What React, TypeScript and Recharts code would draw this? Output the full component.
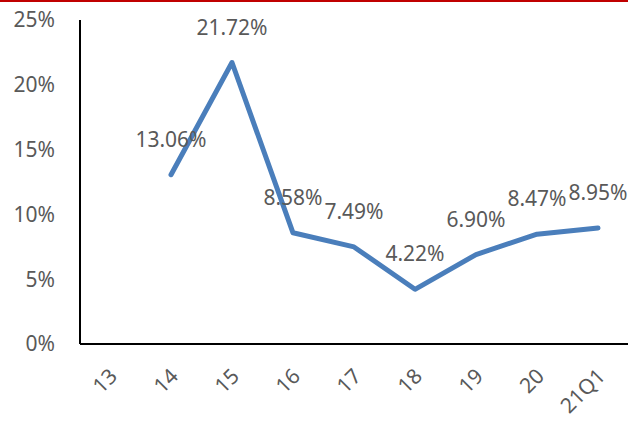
import React from "react";
import { LineChart, Line, XAxis, YAxis, LabelList } from "recharts";

const categories = ["13", "14", "15", "16", "17", "18", "19", "20", "21Q1"];
const growth: (number | null)[] = [null, 13.06, 21.72, 8.58, 7.49, 4.22, 6.9, 8.47, 8.95];
const yTicks = [0, 5, 10, 15, 20, 25];

const data = categories.map((c, i) => ({ cat: c, v: growth[i] }));

const FONT = "'Noto Sans', 'DejaVu Sans', sans-serif";
const GRAY = "#595959";

const renderLabel = (props: any) => {
  const { x, y, value } = props;
  if (value == null) return null;
  return (
    <text x={x} y={y - 28} textAnchor="middle" fill={GRAY} fontSize={21} fontFamily={FONT}>
      {Number(value).toFixed(2)}%
    </text>
  );
};

const XTick = (props: any) => {
  const { x, y, payload } = props;
  const ax = x - 2;
  const ay = y;
  return (
    <text
      x={ax}
      y={ay}
      transform={`rotate(-45, ${ax}, ${ay})`}
      textAnchor="end"
      fill={GRAY}
      fontSize={21}
      fontFamily={FONT}
      dy="0.7em"
    >
      {payload.value}
    </text>
  );
};

export default function App() {
  return (
    <div style={{ position: "absolute", left: 0, top: 0, width: 628, height: 423, background: "#fff" }}>
      <div style={{ position: "absolute", left: 0, top: 0, width: 628, height: 2, background: "#c00000" }} />
      <LineChart width={628} height={423} data={data} margin={{ top: 20, right: 0, bottom: 0, left: 0 }}>
        <XAxis
          dataKey="cat"
          axisLine={{ stroke: "#000", strokeWidth: 2 }}
          tickLine={false}
          tickSize={0}
          tickMargin={23}
          height={79}
          interval={0}
          padding={{ left: 30, right: 30 }}
          tick={<XTick />}
        />
        <YAxis
          width={80}
          domain={[0, 25]}
          ticks={yTicks}
          axisLine={{ stroke: "#000", strokeWidth: 2 }}
          tickLine={false}
          tickSize={0}
          tickMargin={25}
          tickFormatter={(v: number) => `${v}%`}
          tick={{ fill: GRAY, fontSize: 21, fontFamily: FONT }}
        />
        <Line
          type="linear"
          dataKey="v"
          stroke="#4a7ebb"
          strokeWidth={5}
          strokeLinejoin="round"
          strokeLinecap="round"
          dot={false}
          isAnimationActive={false}
          connectNulls={false}
        >
          <LabelList dataKey="v" content={renderLabel} />
        </Line>
      </LineChart>
    </div>
  );
}
